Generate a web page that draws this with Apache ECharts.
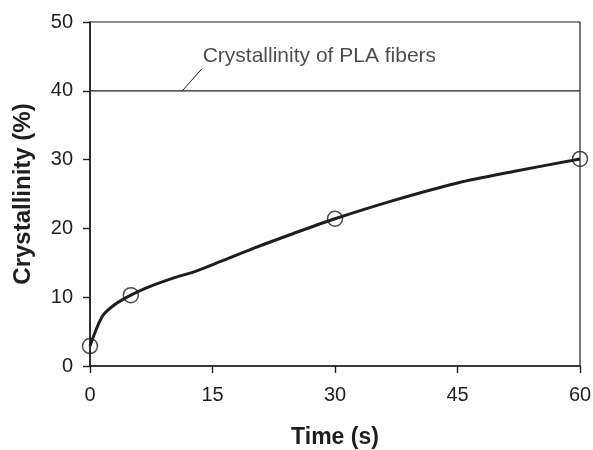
<!DOCTYPE html>
<html><head><meta charset="utf-8">
<script src="https://cdn.jsdelivr.net/npm/echarts@6/dist/echarts.min.js"></script>
<style>html,body{margin:0;padding:0;background:#fff}#c{width:593px;height:450px}</style>
</head><body><div id="c"></div>
<script>
// measured samples (s, %)
const measuredTime = [0, 5, 30, 60];
const measuredCryst = [2.9, 10.3, 21.4, 30.1];
// fitted curve
const curveTime = [0, 1.5, 3, 5, 7, 10, 13, 16, 20, 25, 30, 37, 45, 52, 60];
const curveCryst = [2.9, 7.2, 8.9, 10.3, 11.4, 12.7, 13.8, 15.2, 17.1, 19.3, 21.4, 24.0, 26.6, 28.3, 30.1];
// reference level
const plaLevel = 40;
const plaLabel = 'Crystallinity of PLA fibers';
const leaderX = [11.3, 13.7];
const leaderY = [40, 43.2];
const labelAt = [13.8, 45.1];
const xTicks = [0, 15, 30, 45, 60];
const yTicks = [0, 10, 20, 30, 40, 50];

const ink = '#1e1e1e';
const font = 'Liberation Sans';
const chart = echarts.init(document.getElementById('c'), null, {renderer: 'canvas'});
chart.setOption({
  animation: false,
  backgroundColor: '#fff',
  grid: {left: 90, right: 13, top: 22, bottom: 84, containLabel: false, outerBoundsMode: 'none',
    show: true, borderColor: ink, borderWidth: 1.2, backgroundColor: 'transparent'},
  xAxis: {
    type: 'value', min: xTicks[0], max: xTicks[xTicks.length - 1], interval: 15,
    name: 'Time (s)', nameLocation: 'middle', nameGap: 60,
    nameTextStyle: {fontFamily: font, fontWeight: 'bold', fontSize: 23, color: ink},
    axisLine: {show: true, lineStyle: {color: ink, width: 1.6}},
    axisTick: {show: true, inside: false, length: 7, lineStyle: {color: ink, width: 1.4}},
    axisLabel: {fontFamily: font, fontSize: 20, color: ink, margin: 19},
    splitLine: {show: false}
  },
  yAxis: {
    type: 'value', min: yTicks[0], max: yTicks[yTicks.length - 1], interval: 10,
    name: 'Crystallinity (%)', nameLocation: 'middle', nameGap: 55, nameRotate: 90,
    nameTextStyle: {fontFamily: font, fontWeight: 'bold', fontSize: 24, color: ink},
    axisLine: {show: true, lineStyle: {color: ink, width: 1.6}},
    axisTick: {show: true, inside: false, length: 7, lineStyle: {color: ink, width: 1.4}},
    axisLabel: {fontFamily: font, fontSize: 20, color: ink, margin: 17},
    splitLine: {show: false}
  },
  series: [
    {
      type: 'line', data: [[xTicks[0], plaLevel], [xTicks[xTicks.length - 1], plaLevel]],
      showSymbol: false, lineStyle: {color: ink, width: 1.3}, silent: true
    },
    {
      type: 'line', data: leaderX.map((x, i) => [x, leaderY[i]]),
      showSymbol: false, lineStyle: {color: ink, width: 1}, silent: true
    },
    {
      type: 'scatter', data: [labelAt], symbolSize: 0, silent: true,
      label: {show: true, position: 'right', distance: 0, formatter: plaLabel,
        fontFamily: font, fontSize: 21, color: ink}
    },
    {
      type: 'line', data: curveTime.map((t, i) => [t, curveCryst[i]]),
      smooth: 0.3, showSymbol: false, lineStyle: {color: ink, width: 3}, silent: true
    },
    {
      type: 'scatter', data: measuredTime.map((t, i) => [t, measuredCryst[i]]),
      symbol: 'circle', symbolSize: 15, silent: true,
      itemStyle: {color: 'rgba(0,0,0,0)', borderColor: ink, borderWidth: 1.5}
    }
  ]
});
</script></body></html>
